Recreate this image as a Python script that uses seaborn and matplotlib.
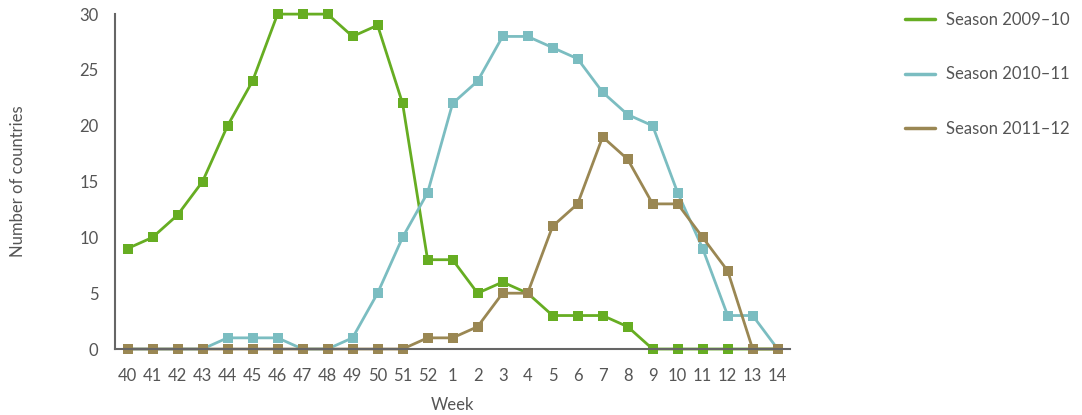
import pandas as pd
import matplotlib
matplotlib.use("Agg")
import matplotlib.pyplot as plt
from matplotlib.lines import Line2D
import seaborn as sns

# data
weeks = [str(w) for w in range(40, 53)] + [str(w) for w in range(1, 15)]
season_0910 = [9, 10, 12, 15, 20, 24, 30, 30, 30, 28, 29, 22, 8,
               8, 5, 6, 5, 3, 3, 3, 2, 0, 0, 0, 0, 0, 0]
season_1011 = [0, 0, 0, 0, 1, 1, 1, 0, 0, 1, 5, 10, 14,
               22, 24, 28, 28, 27, 26, 23, 21, 20, 14, 9, 3, 3, 0]
season_1112 = [0, 0, 0, 0, 0, 0, 0, 0, 0, 0, 0, 0, 1,
               1, 2, 5, 5, 11, 13, 19, 17, 13, 13, 10, 7, 0, 0]
seasons = ["Season 2009\u201310", "Season 2010\u201311", "Season 2011\u201312"]
colors = ["#66ad22", "#7bbdc1", "#9a8753"]

rows = []
for name, vals in zip(seasons, [season_0910, season_1011, season_1112]):
    for i, v in enumerate(vals):
        rows.append({"pos": i, "week": weeks[i], "season": name, "count": v})
df = pd.DataFrame(rows)

sns.set_style("white")
plt.rcParams["font.family"] = ["Lato", "DejaVu Sans"]
grey = "#555555"

fig = plt.figure(figsize=(10.82, 4.15), dpi=100)
ax = fig.add_axes([0.1063, 0.159, 0.624, 0.807])

sns.lineplot(data=df, x="pos", y="count", hue="season", palette=colors,
             marker="s", markersize=7.5, markeredgewidth=0, linewidth=2,
             sort=False, legend=False, ax=ax)
for ln in ax.get_lines():
    ln.set_clip_on(False)

ax.set_xlim(-0.5, 26.5)
ax.set_ylim(0, 30)
ax.set_xticks(range(len(weeks)))
ax.set_xticklabels(weeks)
ax.set_xticks([i + 0.5 for i in range(len(weeks))], minor=True)
ax.set_yticks([0, 5, 10, 15, 20, 25, 30])

ax.tick_params(axis="x", which="major", length=0, pad=14, labelsize=12, colors=grey)
ax.tick_params(axis="x", which="minor", direction="in", length=7, width=1.2, color="#666666")
ax.tick_params(axis="y", direction="in", length=16, width=1.2, color="#666666",
               pad=12, labelsize=12, labelcolor=grey)

for s in ["top", "right"]:
    ax.spines[s].set_visible(False)
for s in ["left", "bottom"]:
    ax.spines[s].set_color("#666666")
    ax.spines[s].set_linewidth(1.5)

ax.set_xlabel("Week", fontsize=12, color=grey, labelpad=9)
ax.set_ylabel("Number of countries", fontsize=12, color=grey, labelpad=38)

handles = [Line2D([0], [0], color=c, lw=2.5) for c in colors]
fig.legend(handles, seasons, loc="upper left", bbox_to_anchor=(0.8225, 1.007),
           frameon=False, fontsize=12, labelcolor=grey, handlelength=1.8,
           handletextpad=0.65, labelspacing=2.3)

fig.savefig("out.png", dpi=100)
